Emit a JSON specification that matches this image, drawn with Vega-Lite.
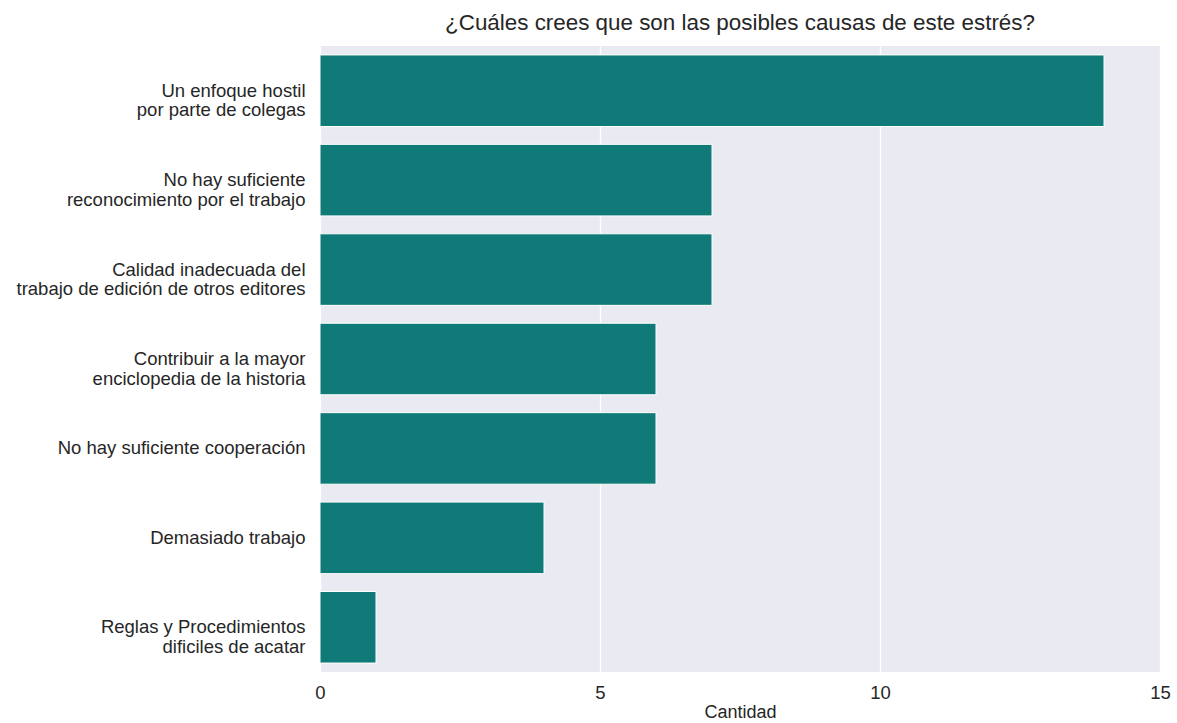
{
  "$schema": "https://vega.github.io/schema/vega-lite/v6.json",
  "autosize": {"type": "none"},
  "padding": {"left": 320, "top": 46, "right": 17, "bottom": 51},
  "width": 840,
  "height": 626,
  "background": "white",
  "title": {
    "text": "¿Cuáles crees que son las posibles causas de este estrés?",
    "font": "Liberation Sans",
    "fontSize": 22.4,
    "fontWeight": "normal",
    "color": "#262626",
    "anchor": "middle",
    "offset": 12
  },
  "config": {
    "view": {"fill": "#eaeaf2", "stroke": null},
    "axis": {
      "labelFont": "Liberation Sans",
      "titleFont": "Liberation Sans",
      "labelColor": "#262626",
      "titleColor": "#262626",
      "domain": false,
      "ticks": false
    }
  },
  "data": {
    "values": [
      {"causa": "Un enfoque hostil |por parte de colegas", "cantidad": 14},
      {"causa": "No hay suficiente |reconocimiento por el trabajo", "cantidad": 7},
      {"causa": "Calidad inadecuada del |trabajo de edición de otros editores", "cantidad": 7},
      {"causa": "Contribuir a la mayor |enciclopedia de la historia", "cantidad": 6},
      {"causa": "No hay suficiente cooperación", "cantidad": 6},
      {"causa": "Demasiado trabajo", "cantidad": 4},
      {"causa": "Reglas y Procedimientos |dificiles de acatar", "cantidad": 1}
    ]
  },
  "mark": {"type": "bar", "color": "#107a78", "stroke": "white", "strokeWidth": 1},
  "encoding": {
    "y": {
      "field": "causa",
      "type": "nominal",
      "sort": null,
      "title": null,
      "scale": {"paddingInner": 0.2, "paddingOuter": 0.1},
      "axis": {
        "labelExpr": "split(datum.label, '|')",
        "labelFontSize": 18.5,
        "labelPadding": 15,
        "labelLineHeight": 19.5,
        "labelLimit": 400,
        "grid": false
      }
    },
    "x": {
      "field": "cantidad",
      "type": "quantitative",
      "title": "Cantidad",
      "scale": {"domain": [0, 15], "nice": false},
      "axis": {
        "values": [0, 5, 10, 15],
        "labelFlush": false,
        "labelFontSize": 18.5,
        "labelPadding": 11,
        "titleFontSize": 18,
        "titleFontWeight": "normal",
        "titlePadding": 2,
        "grid": true,
        "gridColor": "white",
        "gridWidth": 1.3
      }
    }
  }
}
